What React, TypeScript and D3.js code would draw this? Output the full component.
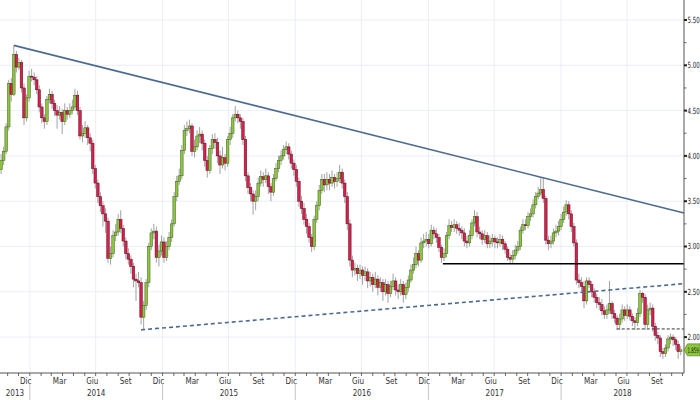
import React from 'react';
import * as d3 from 'd3';

// weekly bars, first one on the week of 14 Oct 2013
const firstWeek = new Date(2013, 9, 14);
const firstOpen = 3.85;

const close2013 = [3.95, 4.05, 4.32, 4.80, 4.68, 5.12, 4.98, 5.03, 4.75, 4.42, 4.64, 4.88];
const high2013 = [4.02, 4.10, 4.36, 4.84, 4.86, 5.22, 5.16, 5.08, 5.06, 4.80, 4.68, 4.94];
const low2013 = [3.80, 3.90, 4.02, 4.28, 4.60, 4.66, 4.92, 4.95, 4.70, 4.34, 4.38, 4.60];

const close2014 = [4.87, 4.84, 4.73, 4.54, 4.42, 4.38, 4.62, 4.68, 4.58, 4.50, 4.45, 4.48, 4.38,
  4.50, 4.46, 4.50, 4.54, 4.67, 4.50, 4.22, 4.25, 4.31, 4.20, 4.14, 3.86, 3.70, 3.55, 3.45, 3.36,
  3.28, 2.87, 2.92, 3.12, 3.16, 3.30, 3.20, 3.06, 2.92, 2.86, 2.78, 2.64, 2.62, 2.60, 2.22, 2.35,
  2.60, 3.00, 3.15, 3.17, 2.88, 2.95, 3.05];
const high2014 = [4.96, 4.92, 4.88, 4.78, 4.58, 4.46, 4.66, 4.74, 4.72, 4.62, 4.56, 4.55, 4.52,
  4.58, 4.54, 4.58, 4.62, 4.74, 4.72, 4.54, 4.34, 4.38, 4.34, 4.25, 4.18, 3.90, 3.74, 3.60, 3.50,
  3.42, 3.32, 3.00, 3.18, 3.25, 3.36, 3.40, 3.24, 3.10, 2.98, 2.90, 2.82, 2.70, 2.72, 2.66, 2.40,
  2.64, 3.04, 3.20, 3.25, 3.22, 3.02, 3.12];
const low2014 = [4.82, 4.78, 4.68, 4.48, 4.36, 4.30, 4.34, 4.58, 4.52, 4.44, 4.30, 4.40, 4.24,
  4.34, 4.40, 4.42, 4.46, 4.50, 4.45, 4.18, 4.15, 4.20, 4.12, 4.05, 3.80, 3.64, 3.48, 3.38, 3.22,
  3.15, 2.82, 2.80, 2.88, 3.06, 3.12, 3.15, 3.00, 2.86, 2.80, 2.70, 2.55, 2.40, 2.55, 2.14, 2.08,
  2.30, 2.55, 2.96, 3.08, 2.82, 2.78, 2.90];

const close2015 = [2.88, 3.00, 3.10, 3.25, 3.55, 3.72, 3.78, 4.06, 4.28, 4.30, 4.33, 4.05, 4.10,
  4.22, 4.24, 4.14, 3.95, 3.84, 4.08, 4.18, 4.15, 4.00, 3.90, 3.98, 3.92, 4.18, 4.25, 4.42, 4.46,
  4.42, 4.38, 4.18, 3.78, 3.65, 3.58, 3.50, 3.55, 3.70, 3.77, 3.74, 3.78, 3.66, 3.60, 3.75, 3.86,
  3.95, 4.00, 4.07, 4.10, 4.02, 3.92, 3.85];
const high2015 = [3.10, 3.06, 3.16, 3.30, 3.60, 3.78, 3.86, 4.12, 4.34, 4.38, 4.40, 4.36, 4.18,
  4.28, 4.32, 4.28, 4.18, 4.00, 4.12, 4.24, 4.25, 4.20, 4.06, 4.10, 4.02, 4.22, 4.32, 4.46, 4.55,
  4.50, 4.46, 4.42, 4.22, 3.82, 3.70, 3.62, 3.62, 3.76, 3.84, 3.82, 3.86, 3.82, 3.70, 3.80, 3.92,
  4.00, 4.06, 4.12, 4.16, 4.14, 4.06, 3.96];
const low2015 = [2.82, 2.84, 2.96, 3.05, 3.22, 3.50, 3.68, 3.74, 4.02, 4.22, 4.25, 4.00, 3.98,
  4.06, 4.14, 4.06, 3.88, 3.76, 3.80, 4.02, 4.08, 3.92, 3.80, 3.86, 3.84, 3.88, 4.12, 4.20, 4.38,
  4.36, 4.30, 4.12, 3.72, 3.58, 3.50, 3.35, 3.40, 3.50, 3.66, 3.66, 3.70, 3.58, 3.50, 3.56, 3.72,
  3.82, 3.90, 3.96, 4.02, 3.96, 3.86, 3.78];

const close2016 = [3.72, 3.50, 3.42, 3.30, 3.22, 3.10, 3.00, 3.30, 3.45, 3.62, 3.74, 3.68, 3.74,
  3.70, 3.76, 3.72, 3.75, 3.82, 3.70, 3.55, 3.25, 2.85, 2.74, 2.76, 2.70, 2.74, 2.68, 2.72, 2.62,
  2.66, 2.58, 2.64, 2.55, 2.60, 2.50, 2.58, 2.48, 2.56, 2.62, 2.52, 2.50, 2.58, 2.47, 2.55, 2.63,
  2.74, 2.80, 2.92, 2.85, 3.04, 3.06, 3.08];
const high2016 = [3.90, 3.76, 3.56, 3.48, 3.36, 3.26, 3.14, 3.34, 3.50, 3.68, 3.80, 3.80, 3.82,
  3.80, 3.84, 3.80, 3.82, 3.90, 3.86, 3.74, 3.60, 3.30, 2.90, 2.82, 2.80, 2.80, 2.78, 2.78, 2.76,
  2.72, 2.70, 2.72, 2.68, 2.66, 2.64, 2.64, 2.62, 2.62, 2.70, 2.66, 2.58, 2.64, 2.62, 2.60, 2.68,
  2.80, 2.88, 3.00, 2.96, 3.10, 3.14, 3.16];
const low2016 = [3.66, 3.44, 3.36, 3.24, 3.14, 3.04, 2.94, 2.96, 3.26, 3.40, 3.58, 3.60, 3.62,
  3.62, 3.66, 3.64, 3.66, 3.70, 3.64, 3.48, 3.18, 2.78, 2.66, 2.68, 2.62, 2.64, 2.58, 2.62, 2.54,
  2.56, 2.50, 2.54, 2.46, 2.50, 2.40, 2.46, 2.38, 2.44, 2.52, 2.46, 2.42, 2.46, 2.38, 2.42, 2.50,
  2.60, 2.70, 2.76, 2.78, 2.82, 2.98, 3.00];

const close2017 = [3.03, 3.18, 3.14, 3.10, 2.99, 2.88, 2.92, 3.12, 3.23, 3.21, 3.24, 3.20, 3.18,
  3.15, 3.06, 3.04, 3.12, 3.26, 3.33, 3.16, 3.14, 3.08, 3.12, 3.03, 3.06, 3.09, 3.05, 3.04, 3.08,
  3.03, 2.97, 2.88, 2.86, 2.90, 2.96, 3.00, 3.18, 3.24, 3.23, 3.33, 3.36, 3.46, 3.55, 3.59, 3.63,
  3.53, 3.07, 3.03, 3.06, 3.15, 3.17, 3.22];
const high2017 = [3.14, 3.24, 3.22, 3.20, 3.14, 3.02, 2.98, 3.16, 3.30, 3.28, 3.30, 3.28, 3.26,
  3.22, 3.20, 3.12, 3.18, 3.30, 3.40, 3.38, 3.22, 3.18, 3.18, 3.16, 3.12, 3.14, 3.12, 3.10, 3.14,
  3.12, 3.06, 3.00, 2.92, 2.96, 3.02, 3.06, 3.22, 3.30, 3.30, 3.38, 3.42, 3.52, 3.60, 3.66, 3.76,
  3.76, 3.56, 3.12, 3.12, 3.20, 3.24, 3.28];
const low2017 = [2.98, 3.00, 3.08, 3.04, 2.94, 2.82, 2.84, 2.88, 3.08, 3.16, 3.16, 3.14, 3.12,
  3.08, 3.00, 2.98, 3.00, 3.08, 3.22, 3.10, 3.08, 3.02, 3.04, 2.98, 2.98, 3.00, 2.98, 2.98, 3.00,
  2.96, 2.92, 2.84, 2.81, 2.82, 2.86, 2.92, 2.96, 3.14, 3.18, 3.20, 3.28, 3.32, 3.42, 3.52, 3.56,
  3.48, 3.02, 2.96, 2.98, 3.02, 3.10, 3.12];

const close2018 = [3.30, 3.38, 3.46, 3.36, 3.22, 3.04, 2.63, 2.60, 2.56, 2.40, 2.62, 2.58, 2.50,
  2.44, 2.38, 2.36, 2.29, 2.25, 2.30, 2.37, 2.26, 2.21, 2.14, 2.20, 2.30, 2.24, 2.30, 2.23, 2.18,
  2.16, 2.26, 2.48, 2.44, 2.14, 2.30, 2.32, 2.12, 2.02, 1.99, 1.84, 1.82, 1.88, 1.98, 2.00, 1.97,
  1.92, 1.84, 1.859];
const high2018 = [3.36, 3.44, 3.51, 3.50, 3.40, 3.26, 3.08, 2.70, 2.66, 2.62, 2.66, 2.66, 2.62,
  2.54, 2.48, 2.44, 2.42, 2.34, 2.36, 2.62, 2.40, 2.30, 2.24, 2.26, 2.36, 2.34, 2.36, 2.34, 2.26,
  2.22, 2.32, 2.52, 2.50, 2.48, 2.36, 2.38, 2.36, 2.16, 2.06, 2.02, 1.88, 1.92, 2.02, 2.04, 2.03,
  2.00, 1.96, 1.90];
const low2018 = [3.18, 3.26, 3.34, 3.30, 3.16, 3.00, 2.58, 2.54, 2.50, 2.32, 2.36, 2.54, 2.44,
  2.38, 2.32, 2.30, 2.24, 2.20, 2.20, 2.26, 2.20, 2.16, 2.08, 2.08, 2.16, 2.18, 2.20, 2.18, 2.12,
  2.08, 2.12, 2.22, 2.38, 2.08, 2.10, 2.24, 2.06, 1.96, 1.92, 1.78, 1.76, 1.78, 1.84, 1.92, 1.90,
  1.86, 1.76, 1.80];

const yTicks = [2.0, 2.5, 3.0, 3.5, 4.0, 4.5, 5.0, 5.5];
const yMinor = [2.25, 2.75, 3.25, 3.75, 4.25, 4.75, 5.25];
const monthNames = ['Gen', 'Feb', 'Mar', 'Apr', 'Mag', 'Giu', 'Lug', 'Ago', 'Set', 'Ott', 'Nov', 'Dic'];
const years = [2013, 2014, 2015, 2016, 2017, 2018];
const lastPrice = '1.859';

const resistance = [
  { date: new Date(2013, 10, 18), value: 5.22 },
  { date: new Date(2018, 11, 5), value: 3.37 },
];
const support = [
  { date: new Date(2014, 10, 3), value: 2.08 },
  { date: new Date(2018, 11, 5), value: 2.59 },
];
const floor2017 = [
  { date: new Date(2017, 1, 10), value: 2.81 },
  { date: new Date(2018, 11, 5), value: 2.81 },
];
const floor2018 = [
  { date: new Date(2018, 5, 3), value: 2.09 },
  { date: new Date(2018, 11, 5), value: 2.09 },
];

type Candle = { date: Date; open: number; high: number; low: number; close: number };

const closes = [...close2013, ...close2014, ...close2015, ...close2016, ...close2017, ...close2018];
const highs = [...high2013, ...high2014, ...high2015, ...high2016, ...high2017, ...high2018];
const lows = [...low2013, ...low2014, ...low2015, ...low2016, ...low2017, ...low2018];

const candles: Candle[] = closes.map((c, i) => ({
  date: d3.timeDay.offset(firstWeek, 7 * i),
  open: i === 0 ? firstOpen : closes[i - 1],
  high: highs[i],
  low: lows[i],
  close: c,
}));

const W = 700;
const H = 400;
const plotRight = 684;
const plotBottom = 373;
const font = "'Liberation Sans Narrow', 'DejaVu Sans Condensed', 'DejaVu Sans', sans-serif";

const x = d3.scaleTime()
  .domain([new Date(2013, 9, 11), new Date(2018, 11, 5)])
  .range([0, plotRight]);
const y = d3.scaleLinear().domain([1.5, 5.5]).range([382.4, 20]);

const App: React.FC = () => {
  const line = d3.line<{ date: Date; value: number }>()
    .x((d) => x(d.date))
    .y((d) => y(d.value));

  const [d0, d1] = x.domain();
  const months = d3.timeMonth.range(d3.timeMonth.ceil(d0), d1);
  const quarters = months.filter((m) => m.getMonth() % 3 === 2 && x(m) < plotRight - 12);
  const halfYears = months.filter((m) => m.getMonth() % 6 === 0);
  const yearStarts = d3.timeYear.range(d3.timeYear.ceil(d0), d1);

  const bw = 2.6;
  const lastY = y(closes[closes.length - 1]);

  return (
    <svg width={W} height={H} style={{ position: 'absolute', left: 0, top: 0, background: '#fff' }}>
      <rect width={W} height={H} fill="#fff" />
      {/* grid */}
      {yTicks.map((t) => (
        <line key={'gy' + t} x1={0} x2={plotRight} y1={y(t)} y2={y(t)} stroke="#e4ebf3" strokeWidth={0.8} />
      ))}
      {halfYears.map((m) => (
        <line key={'gx' + m.getTime()} x1={x(m)} x2={x(m)} y1={0} y2={plotBottom} stroke="#e4ebf3" strokeWidth={0.8} />
      ))}

      {/* candles */}
      {candles.map((c, i) => {
        const cx = x(c.date);
        const up = c.close >= c.open;
        const top = y(Math.max(c.open, c.close));
        const bot = y(Math.min(c.open, c.close));
        return (
          <g key={i}>
            <line x1={cx} x2={cx} y1={y(c.high)} y2={y(c.low)} stroke="#8a8a8a" strokeWidth={0.8} />
            <rect
              x={cx - bw / 2}
              y={top}
              width={bw}
              height={Math.max(bot - top, 0.8)}
              fill={up ? '#8cc63f' : '#d7204e'}
              stroke={up ? '#3f5b18' : '#5b0f22'}
              strokeWidth={0.5}
            />
          </g>
        );
      })}

      {/* trend lines */}
      <path d={line(resistance) ?? ''} fill="none" stroke="#4b6a90" strokeWidth={1.6} />
      <path d={line(support) ?? ''} fill="none" stroke="#4b6a90" strokeWidth={1.6} strokeDasharray="4,3" />
      <path d={line(floor2017) ?? ''} fill="none" stroke="#000" strokeWidth={1.5} />
      <path d={line(floor2018) ?? ''} fill="none" stroke="#333" strokeWidth={1} strokeDasharray="3,2" />

      {/* right axis */}
      <line x1={plotRight} x2={plotRight} y1={0} y2={plotBottom} stroke="#555" strokeWidth={1} />
      {yTicks.map((t) => (
        <g key={'yt' + t} transform={`translate(${plotRight + 3.5},${y(t)}) scale(0.72,1)`}>
          <text x={0} y={0} dy="0.35em" fontSize={8.5} fontFamily={font} fill="#222">
            {t.toFixed(2)}
          </text>
        </g>
      ))}
      {yTicks.map((t) => (
        <rect key={'ytm' + t} x={plotRight} y={y(t) - 1} width={3} height={2} fill="#222" />
      ))}
      {yMinor.map((t) => (
        <line key={'ym' + t} x1={plotRight} x2={plotRight + 2.5} y1={y(t)} y2={y(t)} stroke="#444" strokeWidth={0.8} />
      ))}

      {/* last price tag */}
      <path
        d={`M${plotRight},${lastY} L${plotRight + 3.5},${lastY - 6} L${W},${lastY - 6} L${W},${lastY + 6} L${plotRight + 3.5},${lastY + 6} Z`}
        fill="#8cc63f"
        stroke="#4d7a1c"
        strokeWidth={0.6}
      />
      <g transform={`translate(${plotRight + 3.5},${lastY}) scale(0.58,1)`}>
        <text x={0} y={0} dy="0.35em" fontSize={7.5} fontFamily={font} fill="#142003">
          {lastPrice}
        </text>
      </g>

      {/* bottom axis */}
      <line x1={0} x2={plotRight} y1={plotBottom} y2={plotBottom} stroke="#555" strokeWidth={1} />
      {months.map((m) => (
        <line key={'mt' + m.getTime()} x1={x(m)} x2={x(m)} y1={plotBottom} y2={plotBottom + 3} stroke="#444" strokeWidth={0.8} />
      ))}
      {quarters.map((m) => (
        <text key={'ql' + m.getTime()} x={x(m) + 1.5} y={381} dy="0.35em" fontSize={8} fontFamily={font} fill="#333">
          {monthNames[m.getMonth()]}
        </text>
      ))}
      {yearStarts.map((s) => (
        <line key={'ys' + s.getTime()} x1={x(s)} x2={x(s)} y1={plotBottom + 10} y2={H} stroke="#b5b5b5" strokeWidth={0.8} />
      ))}
      {years.map((yr) => {
        const a = Math.max(x(new Date(yr, 0, 1)), 0);
        const b = Math.min(x(new Date(yr + 1, 0, 1)), plotRight);
        return (
          <text key={'yl' + yr} x={(a + b) / 2} y={393} dy="0.35em" textAnchor="middle" fontSize={8} fontFamily={font} fill="#333">
            {yr}
          </text>
        );
      })}
    </svg>
  );
};

export default App;
